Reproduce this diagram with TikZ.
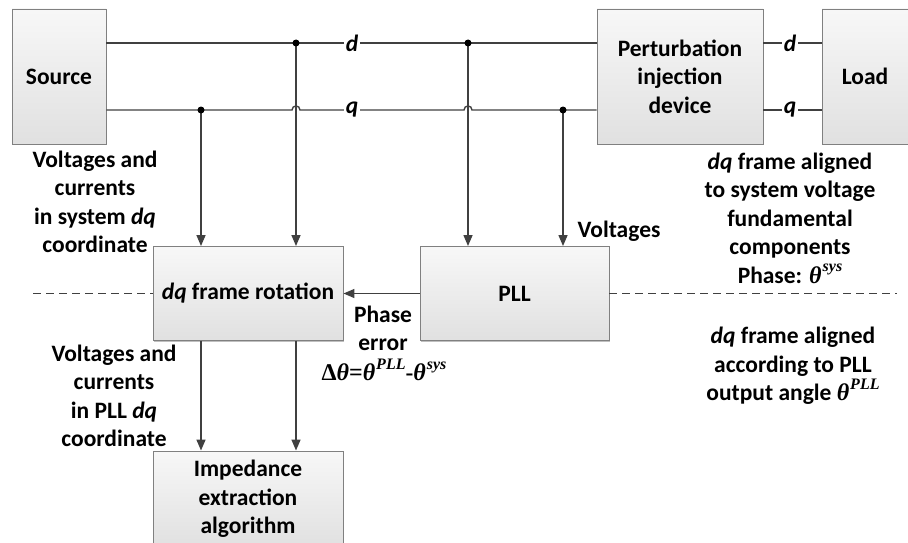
\documentclass[tikz,border=0pt]{standalone}
\usepackage{fontspec}
\setmainfont{Carlito}
\newfontfamily\thf{Liberation Serif}
\usetikzlibrary{arrows.meta,shadows}
\newcommand{\thx}{{\thf\itshape\bfseries\fontsize{24}{28.5}\selectfont θ}}
\newcommand{\sps}[1]{\hspace{1pt}\raisebox{0.48em}{\thf\itshape\bfseries\fontsize{16}{16}\selectfont #1}}
\begin{document}
\begin{tikzpicture}[x=1pt,y=-1pt,
  font=\fontsize{23.5}{28.5}\selectfont\bfseries,
  box/.style={draw=black!50, line width=0.9pt, top color=white!97!black, bottom color=white!88!black,
    align=center, inner sep=0pt, drop shadow={shadow xshift=1pt,shadow yshift=-1pt,opacity=0.25,fill=black}},
  wire/.style={draw=black!75, line width=1.4pt},
  arr/.style={wire, -{Triangle[length=11pt,width=9pt]}},
  dashline/.style={draw=black!75, line width=1.4pt, dash pattern=on 8pt off 5pt},
  dot/.style={circle, fill=black, inner sep=0pt, minimum size=7pt},
  lbl/.style={fill=white, inner sep=1.5pt},
  txt/.style={align=center, inner sep=0pt}]
\useasboundingbox (0,0) rectangle (908,543);

% boxes
\node[box, minimum width=94pt, minimum height=135pt] (src) at (59,76.5) {Source};
\node[box, minimum width=166pt, minimum height=135pt] (pert) at (680,76.5) {Perturbation\\injection\\device};
\node[box, minimum width=86pt, minimum height=135pt] (load) at (865,76.5) {Load};
\node[box, minimum width=190pt, minimum height=94pt] (dqrot) at (248,293.5) {{\itshape dq} frame rotation};
\node[box, minimum width=189pt, minimum height=94pt] (pll) at (514.5,293.5) {PLL};
\node[box, minimum width=190pt, minimum height=96pt] (imp) at (248,499) {Impedance\\extraction\\algorithm};

% junctions and helper points
\coordinate (jd1) at (296,43);
\coordinate (jd2) at (468,43);
\coordinate (jq1) at (201,110);
\coordinate (jq2) at (563,110);
\coordinate (h1a) at (292,110);
\coordinate (h1b) at (300,110);
\coordinate (h2a) at (464,110);
\coordinate (h2b) at (472,110);
\coordinate (dl0) at (33,293.5);
\coordinate (dr0) at (897,293.5);

% d and q lines
\draw[wire] (src.east |- jd1) -- (pert.west |- jd1);
\draw[wire] (src.east |- jq1) -- (h1a) .. controls (292,104.7) and (300,104.7) .. (h1b)
  -- (h2a) .. controls (464,104.7) and (472,104.7) .. (h2b) -- (pert.west |- jq1);
\draw[wire] (pert.east |- jd1) -- (load.west |- jd1);
\draw[wire] (pert.east |- jq1) -- (load.west |- jq1);

% arrows
\draw[arr] (jq1) -- (jq1 |- dqrot.north);
\draw[arr] (jd1) -- (jd1 |- dqrot.north);
\draw[arr] (jd2) -- (jd2 |- pll.north);
\draw[arr] (jq2) -- (jq2 |- pll.north);
\draw[arr] (pll.west) -- (dqrot.east);
\draw[arr] (dqrot.south -| jq1) -- (imp.north -| jq1);
\draw[arr] (dqrot.south -| jd1) -- (imp.north -| jd1);

% dashed separation
\draw[dashline] (dl0) -- (dqrot.west);
\draw[dashline] (pll.east) -- (dr0);

% dots
\node[dot] (Jd1) at (jd1) {};
\node[dot] (Jd2) at (jd2) {};
\node[dot] (Jq1) at (jq1) {};
\node[dot] (Jq2) at (jq2) {};

% line labels
\node[lbl] (ld1) at (352,43) {\itshape d};
\node[lbl] (lq1) at (352,110) {\itshape q};
\node[lbl] (ld2) at (790,43) {\itshape d};
\node[lbl] (lq2) at (790,110) {\itshape q};

% texts
\node[txt] (t1) at (95,202) {Voltages and\\currents\\in system {\itshape dq}\\coordinate};
\node[txt] (t2) at (114,396) {Voltages and\\currents\\in PLL {\itshape dq}\\coordinate};
\node[txt] (t3) at (619,231) {Voltages};
\node[txt] (t4) at (790,218) {{\itshape dq} frame aligned\\to system voltage\\fundamental\\components\\Phase: \thx\sps{sys}};
\node[txt] (t5) at (383,328.5) {Phase\\error};
\node[txt] (t6) at (384,370) {{\thf\bfseries\fontsize{24}{28.5}\selectfont Δ}\thx{\thf\bfseries\fontsize{24}{28.5}\selectfont =}\thx\sps{PLL}{\thf\bfseries -}\thx\sps{sys}};
\node[txt] (t7) at (793,366) {{\itshape dq} frame aligned\\according to PLL\\output angle \thx\sps{PLL}};
\end{tikzpicture}
\end{document}
